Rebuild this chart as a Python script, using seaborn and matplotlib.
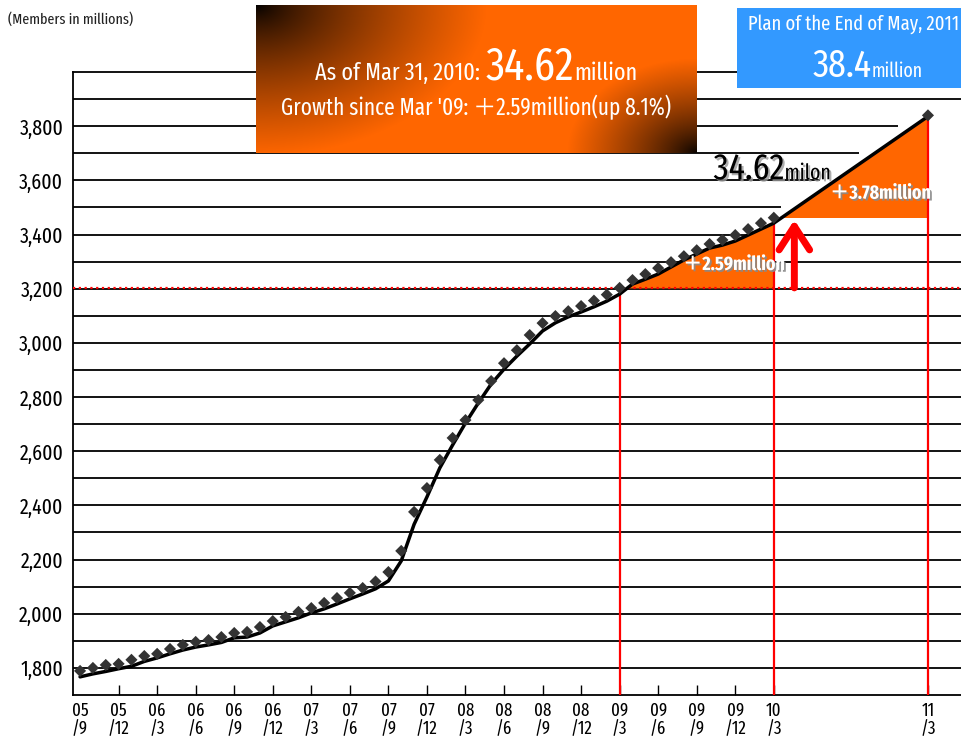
import numpy as np
import pandas as pd
import matplotlib
matplotlib.use("Agg")
import matplotlib.pyplot as plt
import matplotlib.patheffects as pe
from matplotlib.transforms import IdentityTransform
import seaborn as sns

W, H = 962, 740

# Members (x 10,000), monthly from Sep 2005 to Mar 2010
first_month = "2005-09"
last_month = "2010-03"
members = [1789, 1800, 1811, 1815, 1830, 1844, 1852, 1870, 1885, 1896,
           1903, 1914, 1929, 1933, 1951, 1973, 1988, 2007, 2021, 2040,
           2058, 2077, 2095, 2119, 2154, 2232, 2376, 2464, 2568, 2649,
           2715, 2789, 2859, 2925, 2973, 3029, 3073, 3099, 3117, 3136,
           3156, 3178, 3203, 3232, 3254, 3276, 3298, 3320, 3342, 3365,
           3380, 3398, 3420, 3442, 3462]
# Trend line over the same months, extended to the Mar 2011 plan
trend = [1767, 1778, 1787, 1797, 1806, 1824, 1837, 1852, 1866, 1877,
         1885, 1894, 1911, 1914, 1929, 1955, 1970, 1985, 2003, 2018,
         2036, 2055, 2073, 2092, 2121, 2195, 2330, 2431, 2538, 2623,
         2704, 2778, 2848, 2903, 2951, 2996, 3044, 3074, 3096, 3114,
         3133, 3154, 3180, 3217, 3235, 3254, 3280, 3306, 3328, 3350,
         3361, 3376, 3398, 3420, 3442]
plan_month = "2011-03"
plan_members = 3840
plan_trend = 3836

base_month = "2009-03"
base_members = 3203
current_members = 3462

tick_months = ["2005-09", "2005-12", "2006-03", "2006-06", "2006-09", "2006-12",
               "2007-03", "2007-06", "2007-09", "2007-12", "2008-03", "2008-06",
               "2008-09", "2008-12", "2009-03", "2009-06", "2009-09", "2009-12",
               "2010-03", "2011-03"]
tick_labels = ["05\n/9", "05\n/12", "06\n/3", "06\n/6", "06\n/9", "06\n/12",
               "07\n/3", "07\n/6", "07\n/9", "07\n/12", "08\n/3", "08\n/6",
               "08\n/9", "08\n/12", "09\n/3", "09\n/6", "09\n/9", "09\n/12",
               "10\n/3", "11\n/3"]
y_ticks = [1800, 2000, 2200, 2400, 2600, 2800, 3000, 3200, 3400, 3600, 3800]
y_labels = ["1,800", "2,000", "2,200", "2,400", "2,600", "2,800", "3,000",
            "3,200", "3,400", "3,600", "3,800"]

ORANGE = "#FF6600"
BLUE = "#3399FF"
RED = "#FF0000"
FONT = ["Fira Sans Extra Condensed", "Noto Sans CJK JP", "DejaVu Sans"]

sns.set_theme(style="white")
plt.rcParams["font.family"] = FONT


def month_index(s):
    return (pd.Period(s, "M") - pd.Period(first_month, "M")).n


actual_x = [month_index(str(p)) for p in pd.period_range(first_month, last_month, freq="M")]
plan_x = month_index(plan_month)
base_x = month_index(base_month)
current_x = month_index(last_month)

df_points = pd.DataFrame({"month": actual_x + [plan_x], "members": members + [plan_members]})
df_trend = pd.DataFrame({"month": actual_x + [plan_x], "members": trend + [plan_trend]})
tx = df_trend["month"].to_numpy(float)
ty = df_trend["members"].to_numpy(float)

fig = plt.figure(figsize=(W / 100, H / 100), dpi=100)
ax = fig.add_axes([73 / W, 45 / H, 889 / W, 623 / H])
ax.set_xlim(-0.55, 68.65)
ax.set_ylim(1700, 4000)

# horizontal rules every 100; the upper ones stop short of the trend line
x_left, x_right = ax.get_xlim()
for level in range(1800, 4000, 100):
    end = x_right
    if current_members < level < ty.max():
        end = np.interp(level, ty, tx) - 1.2
    ax.hlines(level, x_left, end, color="black", lw=1.3, zorder=1)

# growth areas
m1 = (tx >= base_x) & (tx <= current_x)
ax.fill_between(tx[m1], base_members, ty[m1], where=ty[m1] >= base_members,
                interpolate=True, color=ORANGE, lw=0, zorder=2)
m2 = tx >= current_x
ax.fill_between(tx[m2], current_members, ty[m2], where=ty[m2] >= current_members,
                interpolate=True, color=ORANGE, lw=0, zorder=2)

# reference lines
ax.axhline(base_members, color=RED, lw=1.6, ls=(0, (1, 1.6)), zorder=3)
for m in (base_x, current_x, plan_x):
    ax.vlines(m, 1700, np.interp(m, tx, ty), color=RED, lw=1.6, zorder=3)

sns.lineplot(data=df_trend, x="month", y="members", color="black", lw=2.5,
             ax=ax, zorder=4)
sns.scatterplot(data=df_points, x="month", y="members", marker="D", s=38,
                color="#333333", edgecolor="none", ax=ax, zorder=5)

ax.annotate("", xy=(current_x + 1.6, current_members - 8),
            xytext=(current_x + 1.6, base_members),
            arrowprops=dict(arrowstyle="->,head_length=1.7,head_width=1.1",
                            color=RED, lw=5, shrinkA=0, shrinkB=0,
                            mutation_scale=10, capstyle="round",
                            joinstyle="round"), zorder=6)

shadow_w = [pe.withSimplePatchShadow(offset=(1.3, -1.3), shadow_rgbFace="#8a8a8a", alpha=0.9)]
ax.text(50.9, 3290, "＋2.59million", ha="center", va="center", color="white",
        fontsize=14, fontweight="bold", path_effects=shadow_w, zorder=7)
ax.text(62.3, 3553, "＋3.78million", ha="center", va="center", color="white",
        fontsize=14, fontweight="bold", path_effects=shadow_w, zorder=7)

# axes styling
for side in ("left", "top", "bottom"):
    ax.spines[side].set_color("black")
    ax.spines[side].set_linewidth(1.3)
ax.spines["right"].set_visible(False)
ax.set_xlabel("")
ax.set_ylabel("")
ax.set_yticks(y_ticks, y_labels)
ax.set_xticks([month_index(m) for m in tick_months], tick_labels)
ax.tick_params(axis="y", length=0, pad=7, labelsize=15.5, colors="black")
ax.tick_params(axis="x", direction="in", length=7, width=1, pad=5,
               labelsize=13.2, colors="black", bottom=True)
for lab in ax.get_xticklabels():
    lab.set_linespacing(1.0)
ax.xaxis.get_major_ticks()[0].tick1line.set_visible(False)
ax.grid(False)

fig.text(8 / W, 1 - 24 / H, "(Members in millions)", fontsize=11, color="#222222",
         va="baseline")

# orange summary panel with dark corners
box = fig.add_axes([256 / W, 1 - 153 / H, 441 / W, 148 / H])
bh, bw = 148, 441
yy, xx = np.mgrid[0:bh, 0:bw].astype(float)
d1 = np.clip(np.hypot(xx / 230.0, yy / 150.0), 0, 1) ** 0.75
d2 = np.clip(np.hypot((bw - xx) / 130.0, (bh - yy) / 95.0), 0, 1) ** 0.75
shade = d1 * d2
grad = np.dstack([1.0 * shade, 0.40 * shade, 0.0 * shade])
box.imshow(grad, aspect="auto", extent=(0, 1, 0, 1), interpolation="bilinear")
box.set_axis_off()

# blue plan panel
plan_box = fig.add_axes([737 / W, 1 - 88 / H, 225 / W, 80 / H])
plan_box.set_facecolor(BLUE)
plan_box.set_xticks([])
plan_box.set_yticks([])
for s in plan_box.spines.values():
    s.set_visible(False)

renderer = fig.canvas.get_renderer()


def text_run(parts, x, y, ha="left", color="white", effects=None):
    """Place text pieces of different sizes on one baseline (x, y in px from top-left)."""
    arts = []
    for s, size in parts:
        t = fig.text(0, 0, s, fontsize=size, color=color, ha="left", va="baseline",
                     transform=IdentityTransform(), zorder=10)
        if effects:
            t.set_path_effects(effects)
        arts.append(t)
    widths = [t.get_window_extent(renderer).width for t in arts]
    x0 = x - sum(widths) / 2 if ha == "center" else x
    y0 = H - y
    for t, w in zip(arts, widths):
        t.set_position((x0, y0))
        x0 += w


text_run([("As of Mar 31, 2010: ", 17.3), ("34.62", 33), ("million", 17.3)], 476, 80, ha="center")
text_run([("Growth since Mar '09: ＋2.59million(up 8.1%)", 16.7)], 476, 115, ha="center")
text_run([("Plan of the End of May, 2011", 14.6)], 748, 30)
text_run([("38.4", 28), ("million", 14)], 813, 77)

dark_shadow = [pe.withSimplePatchShadow(offset=(1.5, -1.5), shadow_rgbFace="#999999", alpha=0.8)]
x34, y34 = ax.transData.transform((49.3, 3604))
text_run([("34.62", 26.5), ("milon", 15.5)], x34, H - y34, color="black", effects=dark_shadow)

fig.savefig("out.png", dpi=100)
